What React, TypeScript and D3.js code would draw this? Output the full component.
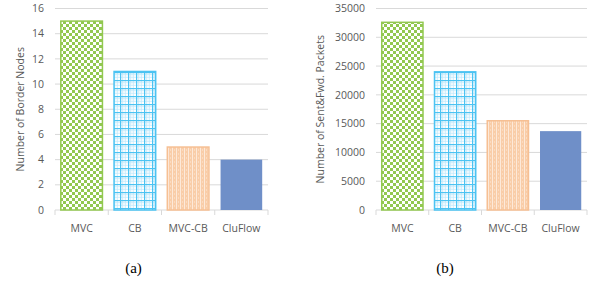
import * as React from 'react';
import * as d3 from 'd3';

const methods = ['MVC', 'CB', 'MVC-CB', 'CluFlow'];
const borderNodes = [15, 11, 5, 4];
const packets = [32600, 24000, 15500, 13700];
const nodeTicks = [0, 2, 4, 6, 8, 10, 12, 14, 16];
const packetTicks = [0, 5000, 10000, 15000, 20000, 25000, 30000, 35000];

const fills = ['url(#checker)', 'url(#grid)', 'url(#dots)', '#6f8fc8'];
const strokes = ['#92c850', '#4cc3f2', '#f6bf93', 'none'];

const W = 593;
const H = 284;
const FONT = '"Open Sans", "Noto Sans", sans-serif';

interface PanelProps {
  x0: number;
  x1: number;
  values: number[];
  ticks: number[];
  title: string;
  titleX: number;
  caption: string;
  captionX: number;
}

const Panel = ({ x0, x1, values, ticks, title, titleX, caption, captionX }: PanelProps) => {
  const top = 8.5;
  const bottom = 210;
  const maxTick = ticks[ticks.length - 1];

  const x = d3.scaleBand<string>().domain(methods).range([x0, x1]).paddingInner(0.19).paddingOuter(0.095);
  const y = d3.scaleLinear().domain([0, maxTick]).range([bottom, top]);
  const step = x.step();

  return (
    <g>
      {ticks.map((t) => (
        <line key={t} x1={x0} x2={x1} y1={y(t)} y2={y(t)} stroke="#d9d9d9" strokeWidth={1} />
      ))}
      {ticks.map((t) => (
        <text
          key={'l' + t}
          x={x0 - 11}
          y={y(t)}
          dy="0.35em"
          textAnchor="end"
          fontSize={10.5}
          fill="#595959"
          fontFamily={FONT}
        >
          {t}
        </text>
      ))}
      {d3.range(methods.length + 1).map((i) => (
        <line
          key={'t' + i}
          x1={x0 + i * step}
          x2={x0 + i * step}
          y1={bottom}
          y2={bottom + 5}
          stroke="#d9d9d9"
          strokeWidth={1}
        />
      ))}
      {methods.map((m, i) => (
        <rect
          key={m}
          x={x(m)! + 0.75}
          y={y(values[i])}
          width={x.bandwidth() - 1.5}
          height={bottom - y(values[i])}
          fill={fills[i]}
          stroke={strokes[i]}
          strokeWidth={1.5}
        />
      ))}
      {methods.map((m) => (
        <text
          key={'x' + m}
          x={x(m)! + x.bandwidth() / 2}
          y={228}
          dy="0.35em"
          textAnchor="middle"
          fontSize={10.5}
          fill="#595959"
          fontFamily={FONT}
        >
          {m}
        </text>
      ))}
      <text
        transform={`translate(${titleX}, ${(top + bottom) / 2}) rotate(-90)`}
        textAnchor="middle"
        dy="0.35em"
        fontSize={10.5}
        fill="#595959"
        fontFamily={FONT}
      >
        {title}
      </text>
      <text
        x={captionX}
        y={268}
        dy="0.35em"
        textAnchor="middle"
        fontSize={15}
        fill="#000"
        fontFamily='"Liberation Serif", "DejaVu Serif", serif'
      >
        {caption}
      </text>
    </g>
  );
};

const App = () => {
  return (
    <svg
      width={W}
      height={H}
      style={{ position: 'absolute', left: 0, top: 0, background: '#fff' }}
    >
      <defs>
        <pattern id="checker" width={6} height={6} patternUnits="userSpaceOnUse">
          <rect width={6} height={6} fill="#ffffff" />
          <rect width={3} height={3} fill="#92c850" />
          <rect x={3} y={3} width={3} height={3} fill="#92c850" />
        </pattern>
        <pattern id="grid" width={8} height={8} patternUnits="userSpaceOnUse">
          <rect width={8} height={8} fill="#ffffff" />
          <line x1={2.7} x2={2.7} y1={0} y2={8} stroke="#bfe9fb" strokeWidth={0.8} />
          <line x1={5.3} x2={5.3} y1={0} y2={8} stroke="#bfe9fb" strokeWidth={0.8} />
          <line y1={2.7} y2={2.7} x1={0} x2={8} stroke="#bfe9fb" strokeWidth={0.8} />
          <line y1={5.3} y2={5.3} x1={0} x2={8} stroke="#bfe9fb" strokeWidth={0.8} />
          <line x1={0.6} x2={0.6} y1={0} y2={8} stroke="#4cc3f2" strokeWidth={1.2} />
          <line y1={0.6} y2={0.6} x1={0} x2={8} stroke="#4cc3f2" strokeWidth={1.2} />
        </pattern>
        <pattern id="dots" width={4} height={4} patternUnits="userSpaceOnUse">
          <rect width={4} height={4} fill="#f9cda8" />
          <line x1={0.5} x2={0.5} y1={0} y2={4} stroke="#fde9d9" strokeWidth={1} />
          <rect x={2} y={1.5} width={1} height={1} fill="#fde9d9" />
        </pattern>
      </defs>
      <Panel
        x0={55}
        x1={268}
        values={borderNodes}
        ticks={nodeTicks}
        title="Number of Border Nodes"
        titleX={20.5}
        caption="(a)"
        captionX={133.5}
      />
      <Panel
        x0={376}
        x1={587}
        values={packets}
        ticks={packetTicks}
        title="Number of Sent&Fwd. Packets"
        titleX={320.5}
        caption="(b)"
        captionX={445}
      />
    </svg>
  );
};

export default App;
